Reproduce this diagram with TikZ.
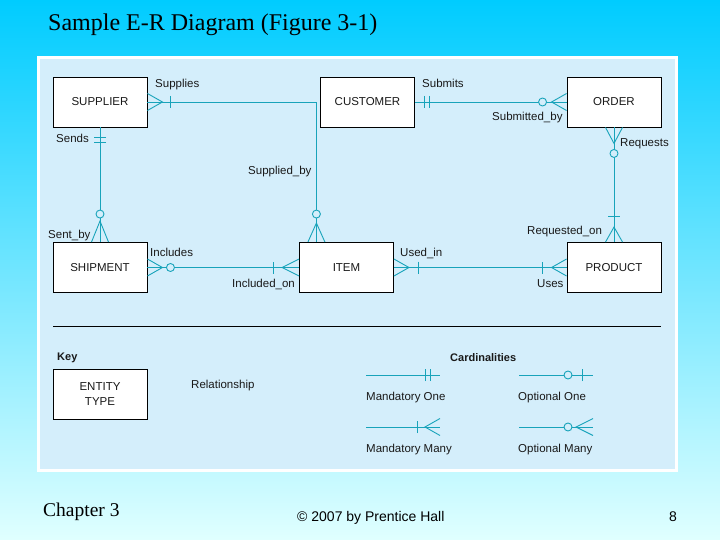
\documentclass[tikz,border=0pt]{standalone}
\usepackage{fontspec}
\setmainfont{Liberation Serif}
\setsansfont{Liberation Sans}
\usetikzlibrary{calc}
\definecolor{bgtop}{RGB}{0,204,255}
\definecolor{bgbot}{RGB}{224,255,255}
\definecolor{panel}{RGB}{212,238,251}
\definecolor{rel}{RGB}{24,163,186}
\definecolor{txt}{RGB}{25,25,25}
\tikzset{
  entity/.style={draw=black, line width=0.9pt, fill=white, minimum width=94pt, minimum height=50pt, inner sep=0pt, font=\sffamily\fontsize{11.5}{15}\selectfont, text=txt},
  conn/.style={draw=rel, line width=0.9pt},
  lbl/.style={font=\sffamily\fontsize{11.5}{14}\selectfont, text=txt, inner sep=0pt, anchor=base west},
  blbl/.style={lbl, font=\sffamily\bfseries\fontsize{11}{14}\selectfont},
}
\newcommand\crow[3]{\begin{scope}[shift={(#1)},rotate=#2]\draw[conn] (0,-8.5)--(#3,0)--(0,8.5);\end{scope}}
\newcommand\tick[3]{\begin{scope}[shift={(#1)},rotate=#2]\draw[conn] (#3,-6)--(#3,6);\end{scope}}
\newcommand\ring[3]{\begin{scope}[shift={(#1)},rotate=#2]\draw[conn,fill=panel] (#3,0) circle (4);\end{scope}}
\begin{document}
\begin{tikzpicture}[x=1pt,y=-1pt]
\useasboundingbox (0,0) rectangle (720,540);
\shade[top color=bgtop, bottom color=bgbot] (0,0) rectangle (720,540);
\fill[white] (37,56) rectangle (678,472);
\fill[panel] (40,59) rectangle (675,469);

% title and footer
\node[inner sep=0pt, anchor=base west, font=\rmfamily\fontsize{24}{28}\selectfont] (title) at (48,31) {Sample E-R Diagram (Figure 3-1)};
\node[inner sep=0pt, anchor=base west, font=\rmfamily\fontsize{19.5}{22}\selectfont] (chap) at (43,516) {Chapter 3};
\node[inner sep=0pt, anchor=base west, font=\sffamily\fontsize{14}{16}\selectfont] (copy) at (297,521) {© 2007 by Prentice Hall};
\node[inner sep=0pt, anchor=base west, font=\sffamily\fontsize{14}{16}\selectfont] (page) at (669,521) {8};

% entities
\node[entity] (sup) at (100,102) {SUPPLIER};
\node[entity] (cust) at (367.5,102) {CUSTOMER};
\node[entity] (ord) at (614,102) {ORDER};
\node[entity] (ship) at (100,267.5) {SHIPMENT};
\node[entity] (item) at (346.5,267.5) {ITEM};
\node[entity] (prod) at (614,267.5) {PRODUCT};
\coordinate (iN) at ($(item.north west)!0.183!(item.north east)$);

% connectors
\draw[conn] (sup.east) -| (iN);
\draw[conn] (sup.south) -- (ship.north);
\draw[conn] (cust.east) -- (ord.west);
\draw[conn] (ord.south) -- (prod.north);
\draw[conn] (ship.east) -- (item.west);
\draw[conn] (item.east) -- (prod.west);

% cardinality marks
\crow{sup.east}{0}{15}\tick{sup.east}{0}{23}
\crow{iN}{90}{19}\ring{iN}{90}{28}
\tick{sup.south}{-90}{10}\tick{sup.south}{-90}{15}
\crow{ship.north}{90}{21}\ring{ship.north}{90}{28}
\tick{cust.east}{0}{9}\tick{cust.east}{0}{14}
\crow{ord.west}{180}{15}\ring{ord.west}{180}{24}
\crow{ord.south}{-90}{16}\ring{ord.south}{-90}{26}
\crow{prod.north}{90}{15}\tick{prod.north}{90}{26}
\crow{ship.east}{0}{15}\ring{ship.east}{0}{23}
\crow{item.west}{180}{17}\tick{item.west}{180}{26}
\crow{item.east}{0}{15}\tick{item.east}{0}{24}
\crow{prod.west}{180}{15}\tick{prod.west}{180}{24}

% relationship labels
\node[lbl] (l1) at (155,88) {Supplies};
\node[lbl] (l2) at (248,175) {Supplied\_by};
\node[lbl] (l3) at (56,143) {Sends};
\node[lbl] (l4) at (48,238) {Sent\_by};
\node[lbl] (l5) at (422,88) {Submits};
\node[lbl] (l6) at (492,121) {Submitted\_by};
\node[lbl] (l7) at (620,147) {Requests};
\node[lbl] (l8) at (527,235) {Requested\_on};
\node[lbl] (l9) at (150,256) {Includes};
\node[lbl] (l10) at (232,287) {Included\_on};
\node[lbl] (l11) at (400,256) {Used\_in};
\node[lbl] (l12) at (537,287) {Uses};

% separator
\coordinate (sepL) at (53,326);
\coordinate (sepR) at (661,326);
\draw[black, line width=0.8pt] (sepL) -- (sepR);

% key
\node[blbl] (key) at (57,360) {Key};
\node[entity, align=center] (et) at (100,394) {ENTITY\\TYPE};
\node[lbl] (relk) at (191,388) {Relationship};
\node[blbl] (card) at (450,361) {Cardinalities};

\coordinate (m1a) at (366,375); \coordinate (m1b) at (440,375);
\coordinate (o1a) at (519,375); \coordinate (o1b) at (593,375);
\coordinate (m2a) at (366,427); \coordinate (m2b) at (440,427);
\coordinate (o2a) at (519,427); \coordinate (o2b) at (593,427);
\draw[conn] (m1a) -- (m1b);
\draw[conn] (o1a) -- (o1b);
\draw[conn] (m2a) -- (m2b);
\draw[conn] (o2a) -- (o2b);
\tick{m1b}{180}{10}\tick{m1b}{180}{15}
\ring{o1b}{180}{25}\tick{o1b}{180}{11}
\crow{m2b}{180}{15}\tick{m2b}{180}{23}
\crow{o2b}{180}{17}\ring{o2b}{180}{25}

\node[lbl] (k1) at (366,400) {Mandatory One};
\node[lbl] (k2) at (518,400) {Optional One};
\node[lbl] (k3) at (366,452) {Mandatory Many};
\node[lbl] (k4) at (518,452) {Optional Many};
\end{tikzpicture}
\end{document}
